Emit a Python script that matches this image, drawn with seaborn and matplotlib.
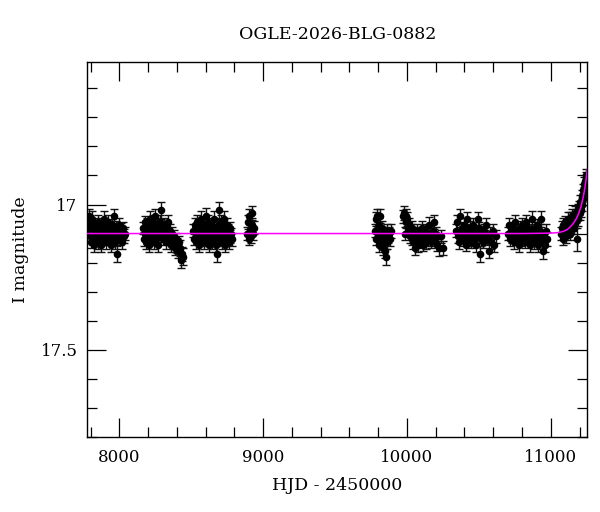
import numpy as np
import pandas as pd
import matplotlib
matplotlib.use("Agg")
import matplotlib.pyplot as plt
import seaborn as sns
from matplotlib.ticker import MultipleLocator

# OGLE-2026-BLG-0882 light curve

# season 1
s1_hjd = [7784, 7789, 7793, 7797, 7802, 7806, 7811, 7815, 7820, 7825,
          7829, 7834, 7839, 7844, 7849, 7854, 7859, 7864, 7869, 7874,
          7880, 7885, 7890, 7896, 7901, 7907, 7912, 7918, 7924, 7930,
          7936, 7942, 7948, 7954, 7960, 7966, 7972, 7978, 7984, 7990,
          7997, 8004, 8011, 8018, 8026, 8033, 8039]
s1_mag = [17.08, 17.04, 17.11, 17.06, 17.13, 17.09, 17.05, 17.12, 17.08, 17.14,
          17.10, 17.07, 17.12, 17.09, 17.13, 17.06, 17.11, 17.08, 17.14, 17.10,
          17.07, 17.12, 17.09, 17.05, 17.11, 17.13, 17.08, 17.10, 17.06, 17.12,
          17.09, 17.14, 17.07, 17.11, 17.04, 17.10, 17.13, 17.08, 17.17, 17.11,
          17.07, 17.12, 17.09, 17.13, 17.08, 17.11, 17.10]
s1_err = [0.022, 0.025, 0.020, 0.024, 0.021, 0.023, 0.026, 0.020, 0.022, 0.024,
          0.021, 0.025, 0.020, 0.023, 0.022, 0.024, 0.021, 0.020, 0.025, 0.022,
          0.023, 0.021, 0.024, 0.026, 0.020, 0.022, 0.023, 0.021, 0.025, 0.020,
          0.022, 0.024, 0.021, 0.023, 0.025, 0.020, 0.022, 0.024, 0.027, 0.021,
          0.023, 0.020, 0.025, 0.022, 0.021, 0.024, 0.022]

# season 2
s2_hjd = [8166, 8171, 8176, 8181, 8186, 8191, 8196, 8201, 8206, 8211,
          8216, 8221, 8226, 8231, 8236, 8241, 8246, 8251, 8256, 8261,
          8266, 8271, 8276, 8281, 8287, 8293, 8299, 8305, 8311, 8317,
          8323, 8329, 8335, 8341, 8347, 8353, 8359, 8365, 8371, 8378,
          8385, 8392, 8399, 8406, 8413, 8420, 8427, 8434, 8441]
s2_mag = [17.08, 17.12, 17.06, 17.10, 17.13, 17.07, 17.11, 17.09, 17.14, 17.05,
          17.10, 17.12, 17.08, 17.06, 17.11, 17.13, 17.09, 17.04, 17.12, 17.07,
          17.10, 17.14, 17.08, 17.06, 17.11, 17.02, 17.09, 17.12, 17.07, 17.10,
          17.13, 17.08, 17.11, 17.06, 17.12, 17.09, 17.14, 17.10, 17.13, 17.11,
          17.15, 17.12, 17.14, 17.16, 17.13, 17.15, 17.19, 17.17, 17.18]
s2_err = [0.021, 0.024, 0.022, 0.020, 0.025, 0.023, 0.021, 0.022, 0.024, 0.026,
          0.022, 0.020, 0.023, 0.025, 0.021, 0.024, 0.022, 0.026, 0.020, 0.023,
          0.021, 0.025, 0.022, 0.024, 0.020, 0.030, 0.023, 0.021, 0.025, 0.022,
          0.024, 0.021, 0.023, 0.025, 0.020, 0.022, 0.024, 0.021, 0.023, 0.022,
          0.025, 0.022, 0.026, 0.024, 0.023, 0.027, 0.028, 0.025, 0.030]

# season 3
s3_hjd = [8515, 8520, 8525, 8530, 8535, 8540, 8545, 8550, 8555, 8560,
          8565, 8570, 8575, 8580, 8585, 8590, 8595, 8600, 8605, 8610,
          8615, 8620, 8625, 8630, 8635, 8640, 8645, 8650, 8655, 8660,
          8665, 8670, 8675, 8680, 8686, 8691, 8696, 8701, 8706, 8711,
          8716, 8721, 8726, 8731, 8736, 8741, 8746, 8751, 8756, 8761,
          8766, 8771, 8776, 8781]
s3_mag = [17.09, 17.12, 17.07, 17.10, 17.13, 17.06, 17.11, 17.08, 17.14, 17.10,
          17.05, 17.12, 17.09, 17.07, 17.11, 17.13, 17.08, 17.04, 17.10, 17.12,
          17.06, 17.09, 17.14, 17.11, 17.07, 17.10, 17.13, 17.08, 17.05, 17.12,
          17.09, 17.11, 17.14, 17.17, 17.07, 17.02, 17.10, 17.12, 17.06, 17.09,
          17.13, 17.08, 17.11, 17.05, 17.14, 17.10, 17.07, 17.12, 17.09, 17.13,
          17.08, 17.11, 17.10, 17.12]
s3_err = [0.022, 0.020, 0.024, 0.021, 0.023, 0.025, 0.020, 0.022, 0.024, 0.021,
          0.026, 0.022, 0.020, 0.023, 0.021, 0.024, 0.022, 0.027, 0.020, 0.023,
          0.025, 0.021, 0.022, 0.020, 0.024, 0.021, 0.023, 0.022, 0.026, 0.020,
          0.022, 0.021, 0.024, 0.028, 0.023, 0.030, 0.021, 0.022, 0.025, 0.020,
          0.023, 0.021, 0.022, 0.026, 0.024, 0.020, 0.023, 0.021, 0.022, 0.024,
          0.021, 0.023, 0.020, 0.022]

# season 4
s4_hjd = [8889, 8894, 8899, 8904, 8909, 8914, 8919, 8924, 8929, 8934]
s4_mag = [17.10, 17.06, 17.12, 17.04, 17.09, 17.11, 17.07, 17.03, 17.10, 17.08]
s4_err = [0.022, 0.024, 0.021, 0.023, 0.020, 0.022, 0.025, 0.024, 0.021, 0.022]

# season 5
s5_hjd = [9778, 9783, 9788, 9793, 9798, 9803, 9808, 9813, 9818, 9823,
          9828, 9833, 9838, 9843, 9848, 9853, 9858, 9863, 9868, 9874,
          9880, 9887]
s5_mag = [17.09, 17.05, 17.12, 17.04, 17.10, 17.14, 17.07, 17.04, 17.11, 17.13,
          17.08, 17.15, 17.10, 17.12, 17.16, 17.18, 17.09, 17.13, 17.11, 17.10,
          17.12, 17.09]
s5_err = [0.022, 0.025, 0.021, 0.026, 0.023, 0.022, 0.024, 0.025, 0.021, 0.023,
          0.022, 0.024, 0.021, 0.023, 0.025, 0.027, 0.022, 0.024, 0.021, 0.023,
          0.022, 0.024]

# season 6
s6_hjd = [9972, 9978, 9984, 9990, 9996, 10002, 10008, 10014, 10020, 10026,
          10032, 10038, 10044, 10050, 10056, 10062, 10068, 10074, 10080, 10086,
          10092, 10099, 10106, 10113, 10120, 10127, 10134, 10141, 10148, 10155,
          10162, 10170, 10178, 10186, 10194, 10202, 10212, 10222, 10234, 10250]
s6_mag = [17.04, 17.03, 17.10, 17.04, 17.06, 17.05, 17.08, 17.07, 17.11, 17.09,
          17.12, 17.08, 17.13, 17.10, 17.15, 17.12, 17.09, 17.14, 17.11, 17.13,
          17.10, 17.12, 17.08, 17.14, 17.11, 17.09, 17.13, 17.10, 17.12, 17.07,
          17.11, 17.13, 17.09, 17.06, 17.12, 17.10, 17.14, 17.15, 17.11, 17.15]
s6_err = [0.022, 0.024, 0.021, 0.023, 0.022, 0.025, 0.021, 0.023, 0.022, 0.024,
          0.021, 0.023, 0.025, 0.022, 0.024, 0.021, 0.023, 0.022, 0.024, 0.021,
          0.023, 0.025, 0.022, 0.021, 0.024, 0.022, 0.023, 0.021, 0.024, 0.026,
          0.022, 0.021, 0.023, 0.025, 0.022, 0.024, 0.021, 0.026, 0.023, 0.025]

# season 7
s7_hjd = [10342, 10349, 10356, 10363, 10370, 10377, 10384, 10391, 10398, 10405,
          10412, 10419, 10426, 10433, 10440, 10447, 10454, 10461, 10468, 10475,
          10482, 10489, 10496, 10503, 10510, 10517, 10524, 10531, 10538, 10545,
          10552, 10560, 10568, 10576, 10585, 10595, 10608, 10622]
s7_mag = [17.09, 17.06, 17.11, 17.13, 17.04, 17.10, 17.08, 17.12, 17.07, 17.11,
          17.14, 17.05, 17.09, 17.12, 17.08, 17.13, 17.10, 17.07, 17.12, 17.09,
          17.14, 17.11, 17.05, 17.08, 17.17, 17.12, 17.10, 17.13, 17.09, 17.11,
          17.07, 17.12, 17.16, 17.10, 17.13, 17.09, 17.14, 17.11]
s7_err = [0.022, 0.024, 0.021, 0.023, 0.025, 0.022, 0.021, 0.024, 0.023, 0.022,
          0.021, 0.025, 0.023, 0.022, 0.024, 0.021, 0.023, 0.022, 0.024, 0.021,
          0.023, 0.022, 0.025, 0.021, 0.027, 0.022, 0.024, 0.021, 0.023, 0.022,
          0.024, 0.021, 0.026, 0.023, 0.022, 0.024, 0.025, 0.022]

# season 8
s8_hjd = [10705, 10711, 10717, 10723, 10729, 10735, 10741, 10747, 10753, 10759,
          10765, 10771, 10777, 10783, 10789, 10795, 10801, 10807, 10813, 10819,
          10825, 10831, 10837, 10843, 10849, 10855, 10861, 10867, 10873, 10879,
          10885, 10891, 10897, 10903, 10909, 10915, 10921, 10927, 10933, 10939,
          10946, 10953, 10960, 10967, 10975]
s8_mag = [17.10, 17.07, 17.12, 17.09, 17.11, 17.08, 17.13, 17.10, 17.06, 17.12,
          17.09, 17.11, 17.14, 17.08, 17.10, 17.12, 17.07, 17.11, 17.09, 17.13,
          17.10, 17.06, 17.12, 17.08, 17.11, 17.14, 17.09, 17.05, 17.12, 17.10,
          17.13, 17.08, 17.11, 17.07, 17.14, 17.10, 17.12, 17.09, 17.05, 17.13,
          17.16, 17.11, 17.14, 17.09, 17.12]
s8_err = [0.021, 0.023, 0.022, 0.020, 0.024, 0.021, 0.022, 0.023, 0.025, 0.021,
          0.022, 0.020, 0.024, 0.023, 0.021, 0.022, 0.025, 0.020, 0.023, 0.021,
          0.022, 0.024, 0.021, 0.023, 0.020, 0.022, 0.024, 0.026, 0.021, 0.023,
          0.022, 0.020, 0.024, 0.021, 0.023, 0.022, 0.021, 0.024, 0.026, 0.022,
          0.028, 0.021, 0.023, 0.022, 0.024]

# season 9 (event rising)
s9_hjd = [11072, 11077, 11082, 11087, 11092, 11097, 11102, 11107, 11112, 11117,
          11122, 11127, 11132, 11137, 11142, 11147, 11152, 11157, 11162, 11167,
          11172, 11177, 11182, 11187, 11192, 11197, 11202, 11206, 11210, 11214,
          11218, 11222, 11226, 11230, 11234, 11238, 11242, 11246]
s9_mag = [17.10, 17.08, 17.12, 17.07, 17.10, 17.09, 17.06, 17.11, 17.08, 17.05,
          17.09, 17.07, 17.10, 17.05, 17.08, 17.04, 17.07, 17.05, 17.08, 17.03,
          17.06, 17.04, 17.12, 17.02, 17.05, 17.01, 17.03, 16.99, 17.02, 16.97,
          17.00, 16.95, 16.98, 16.93, 16.96, 16.92, 16.90, 16.91]
s9_err = [0.022, 0.024, 0.021, 0.023, 0.022, 0.025, 0.021, 0.023, 0.022, 0.024,
          0.021, 0.023, 0.022, 0.025, 0.021, 0.023, 0.022, 0.024, 0.021, 0.026,
          0.022, 0.023, 0.040, 0.022, 0.024, 0.021, 0.023, 0.022, 0.024, 0.021,
          0.023, 0.022, 0.021, 0.024, 0.022, 0.021, 0.023, 0.022]

# model curve (magenta)
model_hjd = [7777, 10800, 10950, 11020, 11060, 11090, 11115, 11140, 11160,
             11180, 11195, 11210, 11222, 11232, 11240, 11246, 11254]
model_mag = [17.100, 17.100, 17.099, 17.098, 17.096, 17.092, 17.086, 17.075, 17.063,
             17.047, 17.030, 17.007, 16.983, 16.958, 16.934, 16.912, 16.878]

hjd = s1_hjd + s2_hjd + s3_hjd + s4_hjd + s5_hjd + s6_hjd + s7_hjd + s8_hjd + s9_hjd
mag = s1_mag + s2_mag + s3_mag + s4_mag + s5_mag + s6_mag + s7_mag + s8_mag + s9_mag
err = s1_err + s2_err + s3_err + s4_err + s5_err + s6_err + s7_err + s8_err + s9_err
df = pd.DataFrame({"hjd": hjd, "mag": mag, "err": err})
model = pd.DataFrame({"hjd": model_hjd, "mag": model_mag})

sns.set_theme(style="ticks")
plt.rcParams["font.family"] = ["DejaVu Serif"]
plt.rcParams["mathtext.fontset"] = "dejavuserif"
plt.rcParams["text.color"] = "black"
plt.rcParams["axes.labelcolor"] = "black"
plt.rcParams["xtick.color"] = "black"
plt.rcParams["ytick.color"] = "black"

fig = plt.figure(figsize=(6, 5.12), dpi=100)
ax = fig.add_axes([0.1455, 0.1471, 0.8333, 0.7312])

ax.errorbar(df["hjd"], df["mag"], yerr=df["err"], fmt="none",
            ecolor="#111111", elinewidth=1.0, capsize=2.6, capthick=1.0, zorder=2)
sns.scatterplot(data=df, x="hjd", y="mag", color="black", s=30,
                edgecolor="black", linewidth=0, ax=ax, zorder=3)
sns.lineplot(data=model, x="hjd", y="mag", color="#ff00ff", lw=1.1,
             estimator=None, sort=False, ax=ax, zorder=4)

ax.set_xlim(7777, 11254)
ax.set_ylim(17.80, 16.51)

ax.xaxis.set_major_locator(MultipleLocator(1000))
ax.xaxis.set_minor_locator(MultipleLocator(200))
ax.yaxis.set_major_locator(MultipleLocator(0.5))
ax.yaxis.set_minor_locator(MultipleLocator(0.1))
ax.set_yticks([17.0, 17.5])
ax.set_yticklabels(["17", "17.5"])

ax.tick_params(which="both", direction="in", top=True, right=True,
               color="black", labelcolor="black", width=0.9, labelsize=12)
ax.tick_params(which="major", length=13.5)
ax.tick_params(which="minor", length=7)
ax.tick_params(axis="x", which="major", pad=9)
ax.tick_params(axis="y", which="major", pad=7)

for sp in ax.spines.values():
    sp.set_linewidth(1.0)
    sp.set_color("black")

ax.set_title("OGLE-2026-BLG-0882", fontsize=12.5, pad=17, color="black")
ax.set_xlabel("HJD - 2450000", fontsize=12.5, labelpad=8)
ax.set_ylabel("I magnitude", fontsize=12.5, labelpad=8)

fig.savefig("out.png", dpi=100)
